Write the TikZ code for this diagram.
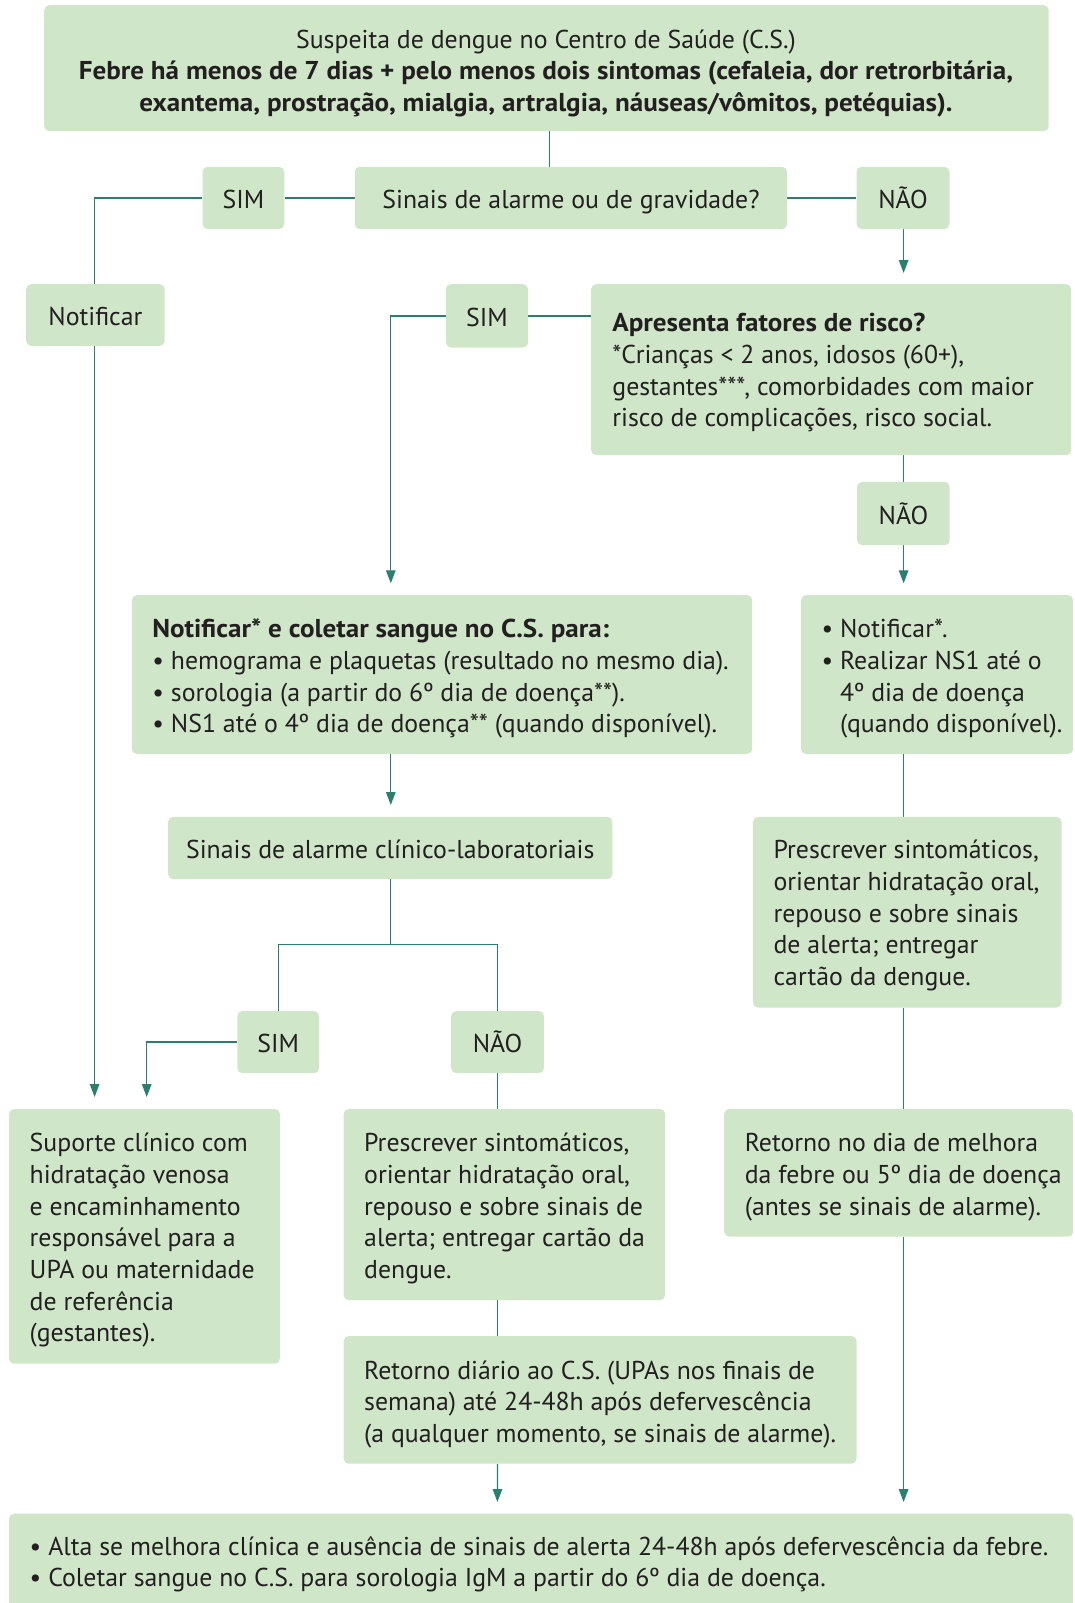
\documentclass[tikz,border=0pt]{standalone}
\usepackage{fontspec}
\setmainfont{PT Sans}[BoldFeatures={FakeStretch=1.05}]
\usetikzlibrary{arrows.meta}
\definecolor{boxg}{RGB}{207,230,201}
\definecolor{lineteal}{RGB}{43,127,110}
\definecolor{ink}{RGB}{35,31,32}
\newcommand\myfs{\fontsize{25.8}{31.7}\selectfont}
\newcommand\mkbox[5]{%
  \pgfmathsetmacro\myBW{#4-#2}\pgfmathsetmacro\myBH{#5-#3}%
  \node[box, minimum width=\myBW pt, minimum height=\myBH pt, anchor=north west] (#1) at (#2,#3) {};}
\pgfdeclarelayer{bg}
\pgfsetlayers{bg,main}
\tikzset{
  box/.style={fill=boxg, rounded corners=5pt, inner sep=0pt, draw=none},
  txt/.style={inner sep=0pt, text=ink, font=\myfs},
  ltxt/.style={txt, anchor=west, align=left, yshift=-2pt},
  ctxt/.style={txt, align=center, yshift=-3.5pt},
  lbl/.style={txt, anchor=base, yshift=-10.5pt},
  conn/.style={draw=lineteal, line width=1.3pt},
  arr/.style={conn, -{Triangle[length=13pt,width=9.5pt]}},
}
\begin{document}
\begin{tikzpicture}[x=1pt,y=-1pt]
\useasboundingbox (0,0) rectangle (1075,1603);
% boxes
\mkbox{top}{44}{5}{1048.5}{131}
\mkbox{sim1}{202.3}{166.6}{284.1}{228.9}
\mkbox{sin1}{354.6}{166.6}{786.9}{228.9}
\mkbox{nao1}{856.4}{166.6}{949.3}{228.9}
\mkbox{notif}{26}{284}{164.5}{345.7}
\mkbox{sim2}{445.6}{284}{527.9}{347.3}
\mkbox{apr}{591}{284}{1071}{455}
\mkbox{nao2}{857}{481.7}{949.5}{545}
\mkbox{not2}{131.6}{595}{752}{753.7}
\mkbox{rb1}{800.8}{595}{1073}{753.7}
\mkbox{sc}{168}{816.7}{612.2}{879}
\mkbox{presR}{752.8}{816.7}{1061.3}{1007.3}
\mkbox{sim3}{237.2}{1010.8}{318.8}{1073}
\mkbox{nao3}{451}{1010.8}{543.7}{1073}
\mkbox{sup}{8.9}{1108.8}{279.7}{1363.5}
\mkbox{pres2}{343.5}{1108.8}{665}{1300}
\mkbox{retR}{724}{1108.8}{1073}{1236.5}
\mkbox{rd}{343.5}{1335.8}{856.3}{1463.5}
\mkbox{bot}{8.9}{1513.5}{1073}{1612}
% texts
\node[ctxt] (top-t) at (546,70) {Suspeita de dengue no Centro de Saúde (C.S.)\\
  \textbf{Febre há menos de 7 dias + pelo menos dois sintomas (cefaleia, dor retrorbitária,}\\
  \textbf{exantema, prostração, mialgia, artralgia, náuseas/vômitos, petéquias).}};
\node[lbl] (sim1-t) at (sim1) {SIM};
\node[lbl] (sin1-t) at (sin1) {Sinais de alarme ou de gravidade?};
\node[lbl] (nao1-t) at (nao1) {NÃO};
\node[lbl] (notif-t) at (notif) {Notificar};
\node[lbl] (sim2-t) at (sim2) {SIM};
\node[ltxt] (apr-t) at (612.2,370.8) {\textbf{Apresenta fatores de risco?}\\
  *Crianças < 2 anos, idosos (60+),\\
  gestantes***, comorbidades com maior\\
  risco de complicações, risco social.};
\node[lbl] (nao2-t) at (nao2) {NÃO};
\node[ltxt] (not2-t) at (152.2,676.8) {\textbf{Notificar* e coletar sangue no C.S. para:}\\
  • hemograma e plaquetas (resultado no mesmo dia).\\
  • sorologia (a partir do 6º dia de doença**).\\
  • NS1 até o 4º dia de doença** (quando disponível).};
\node[ltxt] (rb1-t) at (821.3,676.8) {• Notificar*.\\
  • Realizar NS1 até o\\
  \phantom{•}\ 4º dia de doença\\
  \phantom{•}\ (quando disponível).};
\node[lbl] (sc-t) at (sc) {Sinais de alarme clínico-laboratoriais};
\node[ltxt] (presR-t) at (773.4,913.5) {Prescrever sintomáticos,\\
  orientar hidratação oral,\\
  repouso e sobre sinais\\
  de alerta; entregar\\
  cartão da dengue.};
\node[lbl] (sim3-t) at (sim3) {SIM};
\node[lbl] (nao3-t) at (nao3) {NÃO};
\node[ltxt] (sup-t) at (29.5,1238.4) {Suporte clínico com\\
  hidratação venosa\\
  e encaminhamento\\
  responsável para a\\
  UPA ou maternidade\\
  de referência\\
  (gestantes).};
\node[ltxt] (pres2-t) at (364,1206.7) {Prescrever sintomáticos,\\
  orientar hidratação oral,\\
  repouso e sobre sinais de\\
  alerta; entregar cartão da\\
  dengue.};
\node[ltxt] (retR-t) at (744.6,1175) {Retorno no dia de melhora\\
  da febre ou 5º dia de doença\\
  (antes se sinais de alarme).};
\node[ltxt] (rd-t) at (364,1402.3) {Retorno diário ao C.S. (UPAs nos finais de\\
  semana) até 24-48h após defervescência\\
  (a qualquer momento, se sinais de alarme).};
\node[ltxt] (bot-t) at (29.5,1562.4) {• Alta se melhora clínica e ausência de sinais de alerta 24-48h após defervescência da febre.\\
  • Coletar sangue no C.S. para sorologia IgM a partir do 6º dia de doença.};
% coordinates
\coordinate (c1) at (549.8,0);
\coordinate (cR) at (903.6,0);
\coordinate (a1) at (94.6,1097);
\coordinate (a2) at (903.6,273);
\coordinate (a3) at (390.8,583.3);
\coordinate (a4) at (903.6,583.3);
\coordinate (a5) at (390.8,805);
\coordinate (j) at (390.8,944.3);
\coordinate (a6) at (146.7,1097);
\coordinate (a7) at (903.6,1502);
\coordinate (a8) at (497.4,1502);
\begin{pgfonlayer}{bg}
\draw[conn] (top.south -| c1) -- (sin1.north -| c1);
\draw[conn] (sim1.east) -- (sin1.west);
\draw[conn] (sin1.east) -- (nao1.west);
\draw[arr] (sim1.west) -| (a1);
\draw[arr] (nao1.south -| cR) -- (a2);
\draw[conn] (sim2.east) -- (sim2.east -| apr.west);
\draw[arr] (sim2.west) -| (a3);
\draw[conn] (apr.south -| cR) -- (nao2.north -| cR);
\draw[arr] (nao2.south -| cR) -- (a4);
\draw[arr] (not2.south -| a5) -- (a5);
\draw[conn] (rb1.south -| cR) -- (presR.north -| cR);
\draw[conn] (sc.south -| j) -- (j);
\draw[conn] (sim3.north) |- (j) -| (nao3.north);
\draw[arr] (sim3.west) -| (a6);
\draw[conn] (nao3.south) -- (nao3.south |- pres2.north);
\draw[conn] (pres2.south -| nao3.south) -- (rd.north -| nao3.south);
\draw[arr] (rd.south -| nao3.south) -- (a8);
\draw[conn] (presR.south -| cR) -- (retR.north -| cR);
\draw[arr] (retR.south -| cR) -- (a7);
\end{pgfonlayer}
\end{tikzpicture}
\end{document}
